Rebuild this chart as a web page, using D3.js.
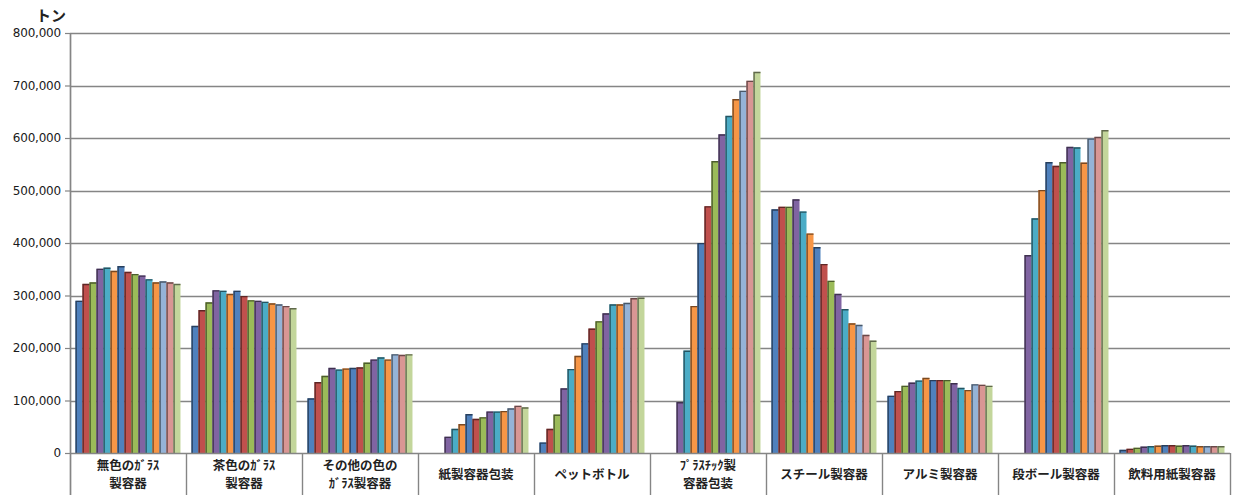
<!DOCTYPE html>
<html>
<head>
<meta charset="utf-8">
<script src="https://cdn.jsdelivr.net/npm/d3@7/dist/d3.min.js"></script>
<style>
  html, body { margin: 0; padding: 0; background: #fff; }
  svg { display: block; }
</style>
</head>
<body>
<svg id="chart" width="1236" height="495"></svg>
<script>
// Separate-collection amounts by container type, fiscal years 1997–2011 (tonnes)
const categories = [
  "無色のｶﾞﾗｽ\n製容器",
  "茶色のｶﾞﾗｽ\n製容器",
  "その他の色の\nｶﾞﾗｽ製容器",
  "紙製容器包装",
  "ペットボトル",
  "ﾌﾟﾗｽﾁｯｸ製\n容器包装",
  "スチール製容器",
  "アルミ製容器",
  "段ボール製容器",
  "飲料用紙製容器"
];
const years = [1997, 1998, 1999, 2000, 2001, 2002, 2003, 2004, 2005, 2006, 2007, 2008, 2009, 2010, 2011];

const clearGlass  = [290000, 322000, 325000, 351000, 353000, 347000, 356000, 345000, 341000, 338000, 331000, 325000, 327000, 325000, 322000];
const brownGlass  = [242000, 272000, 287000, 310000, 309000, 303000, 309000, 299000, 291000, 290000, 288000, 285000, 283000, 280000, 276000];
const otherGlass  = [104000, 135000, 147000, 162000, 159000, 161000, 162000, 163000, 172000, 178000, 182000, 178000, 188000, 187000, 188000];
const paperPack   = [null, null, null, 31000, 46000, 55000, 74000, 65000, 68000, 79000, 79000, 80000, 85000, 90000, 87000];
const petBottle   = [20000, 46000, 73000, 123000, 160000, 185000, 209000, 237000, 251000, 266000, 283000, 283000, 286000, 295000, 296000];
const plastic     = [null, null, null, 97000, 195000, 280000, 400000, 470000, 556000, 607000, 642000, 674000, 690000, 709000, 726000];
const steel       = [464000, 469000, 469000, 483000, 460000, 418000, 392000, 360000, 328000, 303000, 274000, 247000, 244000, 225000, 214000];
const aluminium   = [109000, 118000, 128000, 134000, 138000, 143000, 139000, 139000, 139000, 133000, 124000, 120000, 131000, 130000, 128000];
const cardboard   = [null, null, null, 377000, 447000, 501000, 554000, 547000, 554000, 583000, 582000, 553000, 599000, 602000, 615000];
const drinkCarton = [6000, 8000, 10000, 12000, 13000, 14000, 15000, 15000, 14000, 15000, 14000, 13000, 13000, 13000, 13000];

const seriesByCategory = [clearGlass, brownGlass, otherGlass, paperPack, petBottle,
                          plastic, steel, aluminium, cardboard, drinkCarton];

const yTicks = [0, 100000, 200000, 300000, 400000, 500000, 600000, 700000, 800000];

// one colour per year, cycling through the office palette then its tints
const yearColors = ["#4F81BD", "#C0504D", "#9BBB59", "#8064A2", "#4BACC6", "#F79646",
                    "#4F81BD", "#C0504D", "#9BBB59", "#8064A2", "#4BACC6", "#F79646",
                    "#95B3D7", "#D99694", "#C3D69B"];

const svg = d3.select("#chart");
const plotLeft = 70, plotRight = 1230, plotTop = 33, plotBottom = 453, svgH = 495;

const x0 = d3.scaleBand().domain(categories).range([plotLeft, plotRight]).paddingInner(0).paddingOuter(0);
const x1 = d3.scaleBand().domain(years).range([0, x0.bandwidth()]).paddingInner(0).paddingOuter(0.79);
const y = d3.scaleLinear().domain([0, 800000]).range([plotBottom, plotTop]);
const color = d3.scaleOrdinal().domain(years).range(yearColors);

const gridColor = "#858585";

// horizontal gridlines
svg.append("g")
  .selectAll("line")
  .data(yTicks.filter(d => d > 0))
  .join("line")
  .attr("x1", plotLeft).attr("x2", plotRight)
  .attr("y1", d => Math.round(y(d)) + 0.5).attr("y2", d => Math.round(y(d)) + 0.5)
  .attr("stroke", gridColor).attr("stroke-width", 1.7);

// y axis
const yAxis = d3.axisLeft(y)
  .tickValues(yTicks)
  .tickSize(5)
  .tickPadding(6)
  .tickFormat(d3.format(","));
const gy = svg.append("g").attr("transform", `translate(${plotLeft},0)`).call(yAxis);
gy.select(".domain").remove();
gy.selectAll(".tick line").attr("stroke", gridColor).attr("stroke-width", 1.2);
gy.selectAll(".tick text")
  .attr("font-family", "'DejaVu Sans', sans-serif")
  .attr("font-size", 12)
  .attr("letter-spacing", "-0.2px")
  .attr("fill", "#1a1a1a")
  .attr("x", -9);

// bars
const groups = svg.append("g")
  .selectAll("g")
  .data(categories.map((c, i) => ({ cat: c, values: seriesByCategory[i] })))
  .join("g")
  .attr("transform", d => `translate(${x0(d.cat)},0)`);

const bars = groups.selectAll("g.bar")
  .data(d => years.map((yr, i) => ({ year: yr, value: d.values[i] })).filter(b => b.value != null))
  .join("g").attr("class", "bar");

bars.append("rect")
  .attr("x", d => x1(d.year))
  .attr("y", d => y(d.value))
  .attr("width", x1.bandwidth())
  .attr("height", d => plotBottom - y(d.value))
  .attr("fill", d => color(d.year));

// darker bevel along the top and left edges of each bar
bars.append("path")
  .attr("d", d => {
    const bx = x1(d.year) + 0.6, by = y(d.value) + 0.6;
    return `M${bx},${plotBottom}V${by}H${bx + x1.bandwidth() - 0.6}`;
  })
  .attr("fill", "none")
  .attr("stroke", d => d3.color(color(d.year)).darker(2))
  .attr("stroke-width", 1.4);

// category axis: baseline, dividers and labels
svg.append("line")
  .attr("x1", plotLeft).attr("x2", plotRight)
  .attr("y1", plotBottom + 0.5).attr("y2", plotBottom + 0.5)
  .attr("stroke", gridColor).attr("stroke-width", 1.4);

svg.append("line")
  .attr("x1", plotLeft + 0.5).attr("x2", plotLeft + 0.5)
  .attr("y1", plotTop).attr("y2", svgH)
  .attr("stroke", gridColor).attr("stroke-width", 1.7);

const dividers = categories.map(c => x0(c)).concat([plotRight]).slice(1);
svg.append("g")
  .selectAll("line")
  .data(dividers)
  .join("line")
  .attr("x1", d => Math.round(d) + 0.5).attr("x2", d => Math.round(d) + 0.5)
  .attr("y1", plotBottom).attr("y2", svgH)
  .attr("stroke", gridColor).attr("stroke-width", 1.4);

const labels = svg.append("g")
  .selectAll("text")
  .data(categories)
  .join("text")
  .attr("x", d => x0(d) + x0.bandwidth() / 2)
  .attr("text-anchor", "middle")
  .attr("font-family", "'Noto Sans CJK JP', sans-serif")
  .attr("font-weight", 700)
  .attr("font-size", 12.5)
  .attr("fill", "#222");

labels.each(function (d) {
  const lines = d.split("\n");
  const t = d3.select(this);
  const startY = lines.length === 1 ? 479 : 470;
  lines.forEach((ln, i) => {
    t.append("tspan").attr("x", x0(d) + x0.bandwidth() / 2).attr("y", startY + i * 18).text(ln);
  });
});

// unit label
svg.append("text")
  .attr("x", 36).attr("y", 21)
  .attr("font-family", "'Noto Sans CJK JP', sans-serif")
  .attr("font-weight", 700)
  .attr("font-size", 15)
  .attr("fill", "#222")
  .text("トン");
</script>
</body>
</html>
